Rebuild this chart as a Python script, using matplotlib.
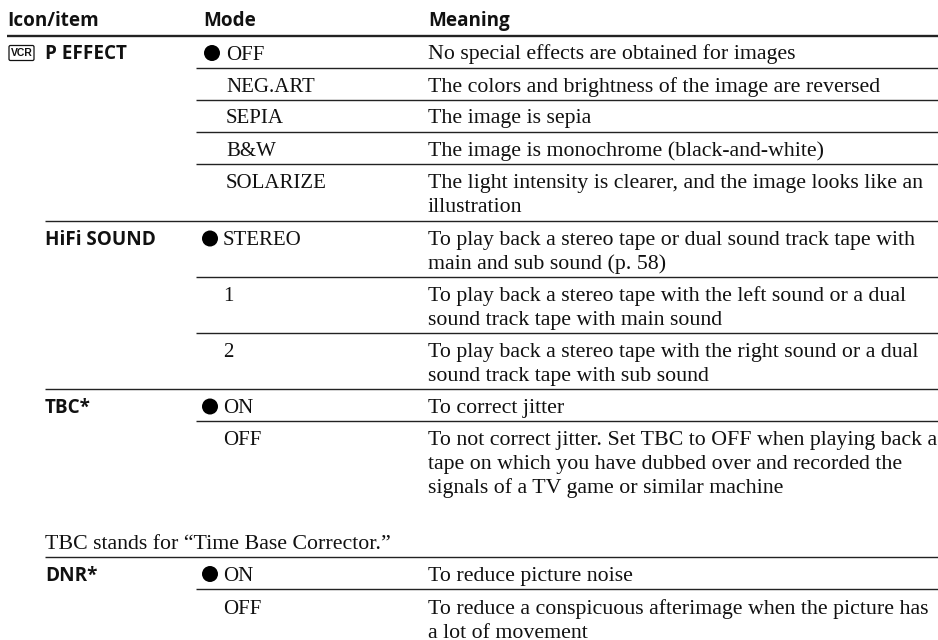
import matplotlib
matplotlib.use("Agg")
import matplotlib.pyplot as plt
from matplotlib.patches import Circle, FancyBboxPatch

headers = ["Icon/item", "Mode", "Meaning"]
items = ["P EFFECT", "HiFi SOUND", "TBC*", "DNR*"]
modes = ["OFF", "NEG.ART", "SEPIA", "B&W", "SOLARIZE", "STEREO", "1", "2", "ON", "OFF", "ON", "OFF"]
meanings = [
    "No special effects are obtained for images",
    "The colors and brightness of the image are reversed",
    "The image is sepia",
    "The image is monochrome (black-and-white)",
    "The light intensity is clearer, and the image looks like an\nillustration",
    "To play back a stereo tape or dual sound track tape with\nmain and sub sound (p. 58)",
    "To play back a stereo tape with the left sound or a dual\nsound track tape with main sound",
    "To play back a stereo tape with the right sound or a dual\nsound track tape with sub sound",
    "To correct jitter",
    "To not correct jitter. Set TBC to OFF when playing back a\ntape on which you have dubbed over and recorded the\nsignals of a TV game or similar machine",
    "To reduce picture noise",
    "To reduce a conspicuous afterimage when the picture has\na lot of movement",
]
note = "TBC stands for \u201cTime Base Corrector.\u201d"

serif = "Liberation Serif"
sans = "Open Sans"
size = 15.75
ink = "#111111"

fig = plt.figure(figsize=(9.38, 6.4), dpi=100)
ax = fig.add_axes([0, 0, 1, 1])
ax.set_xlim(0, 938)
ax.set_ylim(640, 0)
ax.axis("off")

def line(x, y, lw=1.0):
    ax.plot([x, 938], [y, y], color="#222222", lw=lw, solid_capstyle="butt")

def put(x, y, s, family=serif, fs=size, weight="normal"):
    ax.text(x, y, s, family=family, fontsize=fs, fontweight=weight, color=ink, va="baseline", ha="left")

# header
for x, s in zip([7, 203, 428], headers):
    put(x, 26, s, sans, 13.6, "bold")
line(7, 36, 1.7)

# rules between rows
for y in [68, 100, 132, 164, 277, 333, 421, 589]:
    line(196, y)
for y in [220.7, 389, 557]:
    line(45, y)

# left column
for y, s in zip([59, 245, 413, 581], items):
    put(45, y, s, sans, 13.6, "bold")
ax.add_patch(FancyBboxPatch((9, 45.5), 25, 15, boxstyle="round,pad=0,rounding_size=1.5", fc="white", ec=ink, lw=0.9))
ax.text(21.5, 53.3, "VCR", family="Liberation Sans", fontsize=7.5, fontweight="bold", color=ink, ha="center", va="center")

# mode column
mode_x = [226, 226, 226, 226, 226, 223, 223, 223, 223, 223, 223, 223]
mode_y = [59.5, 91.7, 123.3, 156, 188.3, 245, 301, 357, 413, 445, 581, 614]
for x, y, s in zip(mode_x, mode_y, modes):
    put(x, y, s, fs=15)

# default setting dots
for x, y in [(212, 53), (210, 238.5), (210, 406.5), (210, 574)]:
    ax.add_patch(Circle((x, y), 8, fc="black", ec="none"))

# meaning column, 24 px between lines
for y, s in zip(mode_y, meanings):
    for i, part in enumerate(s.split("\n")):
        put(428, y + i * 24, part)

put(45, 549, note)

fig.savefig("out.png", dpi=100)
